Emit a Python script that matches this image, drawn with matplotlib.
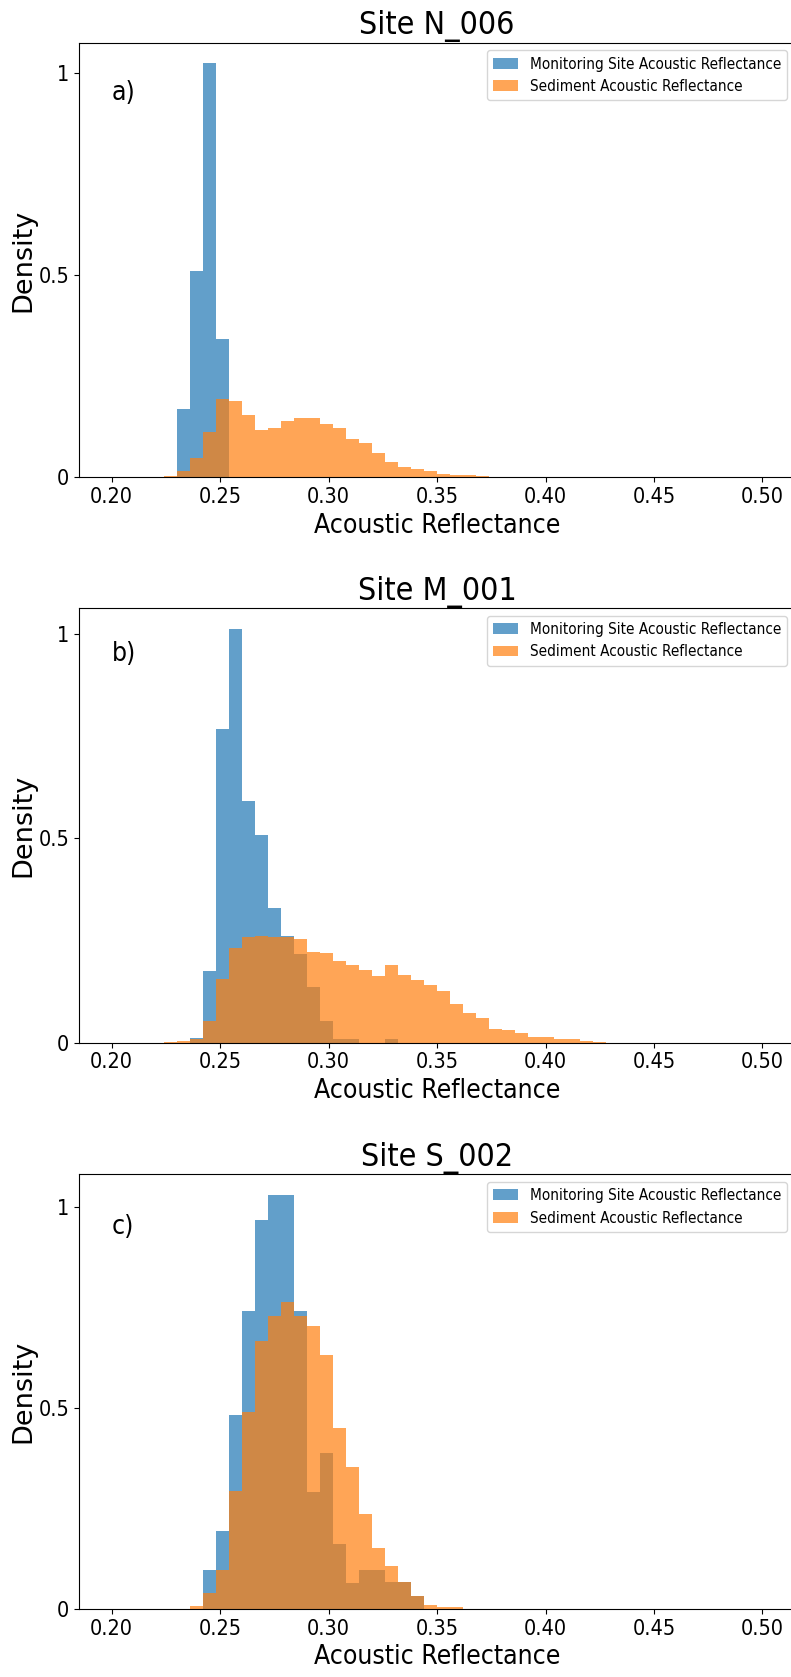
import numpy as np
import matplotlib
matplotlib.use('Agg')
import matplotlib.pyplot as plt

plt.rcParams['font.family'] = ['DejaVu Sans']
plt.rcParams['font.stretch'] = 'condensed'

#### histogram bins (shared by all panels)
edges = np.linspace(0.2, 0.5, 51)

#### bar heights, given as (first bin index, heights)
n006_site = (5, [0.170, 0.510, 1.024, 0.342])
n006_sed = (4, [0.004, 0.015, 0.049, 0.112, 0.194, 0.188, 0.155, 0.118, 0.122, 0.140,
                0.147, 0.147, 0.132, 0.122, 0.096, 0.084, 0.061, 0.039, 0.027, 0.022,
                0.016, 0.009, 0.006, 0.005, 0.003])

m001_site = (6, [0.012, 0.176, 0.766, 1.012, 0.591, 0.507, 0.330, 0.260, 0.216, 0.136,
                 0.053, 0.009, 0.009, 0.0, 0.0, 0.009])
m001_sed = (4, [0.002, 0.004, 0.010, 0.052, 0.155, 0.231, 0.259, 0.262, 0.259, 0.258,
                0.254, 0.223, 0.220, 0.201, 0.189, 0.178, 0.164, 0.189, 0.165, 0.154,
                0.140, 0.126, 0.095, 0.073, 0.060, 0.034, 0.031, 0.024, 0.015, 0.013,
                0.010, 0.008, 0.004, 0.002])

s002_site = (7, [0.098, 0.194, 0.483, 0.740, 0.967, 1.029, 1.029, 0.740, 0.290, 0.387,
                 0.163, 0.066, 0.098, 0.098, 0.067, 0.067, 0.032])
s002_sed = (6, [0.008, 0.040, 0.096, 0.293, 0.490, 0.666, 0.729, 0.764, 0.729, 0.703,
                0.632, 0.449, 0.353, 0.237, 0.152, 0.107, 0.067, 0.032, 0.011, 0.006,
                0.004])

titles = ['Site N_006', 'Site M_001', 'Site S_002']
letters = ['a)', 'b)', 'c)']
series = [(n006_site, n006_sed), (m001_site, m001_sed), (s002_site, s002_sed)]
labels = ['Monitoring Site Acoustic Reflectance', 'Sediment Acoustic Reflectance']
bottoms = [0.7153, 0.3782, 0.0405]


def full_heights(s):
    start, vals = s
    h = np.zeros(len(edges) - 1)
    h[start:start + len(vals)] = vals
    return h


fig = plt.figure(figsize=(7.91, 16.77), dpi=100)
centers = (edges[:-1] + edges[1:]) / 2

for i in range(3):
    ax = fig.add_axes([0.0999, bottoms[i], 0.9052, 0.2592])
    for s, lab in zip(series[i], labels):
        ax.hist(centers, bins=edges, weights=full_heights(s), alpha=0.7, label=lab)
    ax.set_title(titles[i], fontsize=23)
    ax.set_xlabel('Acoustic Reflectance', fontsize=19)
    ax.set_ylabel('Density', fontsize=19.5, fontstretch='normal')
    ax.yaxis.set_label_coords(-0.059, 0.5)
    ax.set_xticks(np.arange(0.2, 0.51, 0.05))
    ax.set_xticklabels(['%.2f' % t for t in np.arange(0.2, 0.51, 0.05)])
    ax.set_yticks([0, 0.5, 1])
    ax.set_yticklabels(['0', '0.5', '1'])
    ax.tick_params(labelsize=15.5)
    ax.text(0.2, 0.95, letters[i], fontsize=19, va='center', ha='left')
    ax.legend(loc='upper right', fontsize=11, handlelength=1.6)

fig.savefig('out.png', dpi=100)
